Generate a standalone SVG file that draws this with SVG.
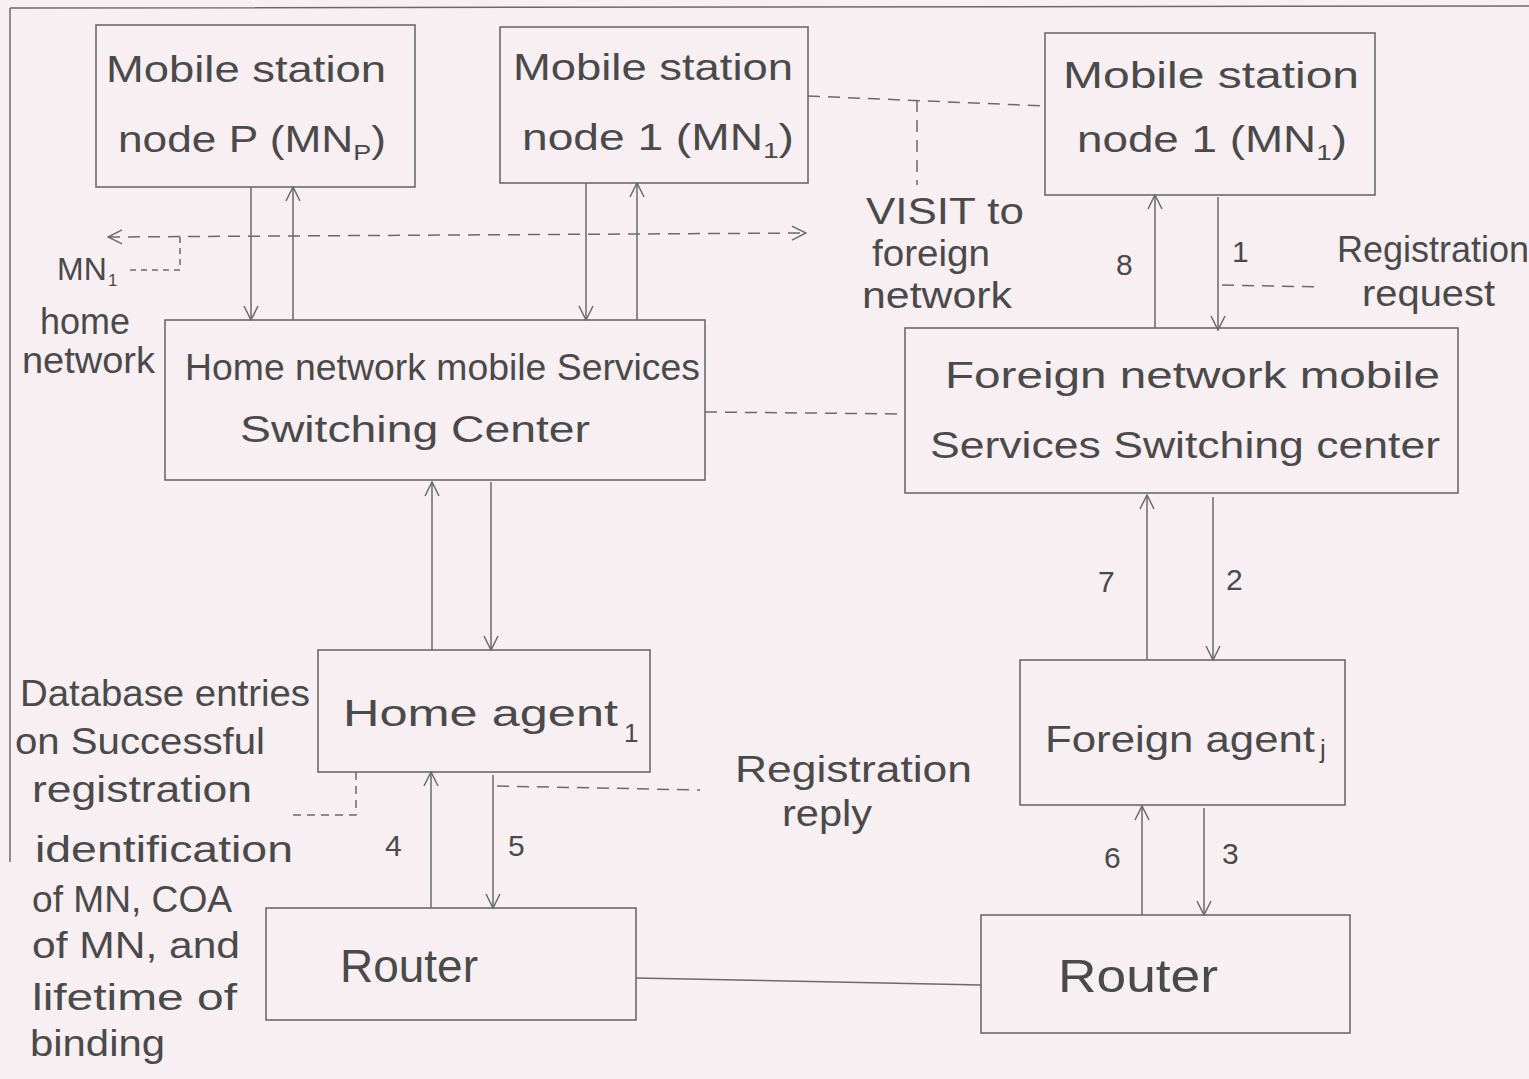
<svg xmlns="http://www.w3.org/2000/svg" width="1529" height="1079" viewBox="0 0 1529 1079">
<style>
.bg{fill:#f7eff2}
.box{fill:none;stroke:#6a6a6a;stroke-width:1.6}
.ln{fill:none;stroke:#6a6a6a;stroke-width:1.5}
.ar{fill:none;stroke:#6a6a6a;stroke-width:1.5;marker-end:url(#ah)}
.ds{fill:none;stroke:#6a6a6a;stroke-width:1.5;stroke-dasharray:12 8}
.t{font-family:"Liberation Sans","DejaVu Sans",sans-serif;fill:#4a4a4a;font-size:36px}
.n{font-size:30px}
.big{font-size:46px}
.sub{font-size:26px}
</style>
<defs>
<marker id="ah" viewBox="0 0 16 16" refX="15" refY="8" markerWidth="16" markerHeight="16" markerUnits="userSpaceOnUse" orient="auto-start-reverse">
<path d="M1,1 L15,8 L1,15" fill="none" stroke="#6a6a6a" stroke-width="1.5"/>
</marker>
</defs>
<rect class="bg" x="0" y="0" width="1529" height="1079"/>
<g id="frame">
<path class="ln" d="M10,8 L1529,6 M10,8 L10,862"/>
</g>
<g id="connectors">
<path class="ar" d="M251,187 L251,320"/>
<path class="ar" d="M293,320 L293,187"/>
<path class="ar" d="M586,183 L586,320"/>
<path class="ar" d="M637,320 L637,183"/>
<path class="ar" d="M432,650 L432,482"/>
<path class="ar" d="M491,482 L491,650"/>
<path class="ar" d="M431,908 L431,772"/>
<path class="ar" d="M493,775 L493,908"/>
<path class="ar" d="M1218,197 L1218,330"/>
<path class="ar" d="M1155,328 L1155,195"/>
<path class="ar" d="M1213,497 L1213,660"/>
<path class="ar" d="M1147,660 L1147,495"/>
<path class="ar" d="M1204,808 L1204,915"/>
<path class="ar" d="M1142,915 L1142,806"/>
<path class="ln" d="M636,978 L981,985"/>
<path class="ds" d="M705,412 L905,414"/>
<path class="ds" d="M808,96 L1045,106"/>
<path class="ds" d="M917,100 L917,185"/>
<path class="ds" d="M108,237 L806,233" marker-start="url(#ah)" marker-end="url(#ah)"/>
<path class="ds" style="stroke-dasharray:6 5" d="M130,270 L180,270 L180,237"/>
<path class="ds" d="M1222,285 L1322,287"/>
<path class="ds" d="M497,786 L700,790"/>
<path class="ds" style="stroke-dasharray:8 6" d="M293,815 L356,815 L356,772"/>
</g>
<g id="mnp">
<rect class="box" x="96" y="25" width="319" height="162"/>
<text class="t" x="106" y="82" textLength="280" lengthAdjust="spacingAndGlyphs">Mobile station</text>
<text class="t" x="118" y="152" textLength="268" lengthAdjust="spacingAndGlyphs">node P (MN<tspan font-size="22" dy="8">P</tspan><tspan dy="-8">)</tspan></text>
</g>
<g id="mn1home">
<rect class="box" x="500" y="27" width="308" height="156"/>
<text class="t" x="513" y="80" textLength="280" lengthAdjust="spacingAndGlyphs">Mobile station</text>
<text class="t" x="522" y="150" textLength="272" lengthAdjust="spacingAndGlyphs">node 1 (MN<tspan font-size="22" dy="8">1</tspan><tspan dy="-8">)</tspan></text>
</g>
<g id="mn1foreign">
<rect class="box" x="1045" y="33" width="330" height="162"/>
<text class="t" x="1063" y="88" textLength="296" lengthAdjust="spacingAndGlyphs">Mobile station</text>
<text class="t" x="1077" y="152" textLength="270" lengthAdjust="spacingAndGlyphs">node 1 (MN<tspan font-size="22" dy="8">1</tspan><tspan dy="-8">)</tspan></text>
</g>
<g id="homemsc">
<rect class="box" x="165" y="320" width="540" height="160"/>
<text class="t" x="185" y="380" textLength="515" lengthAdjust="spacingAndGlyphs">Home network mobile Services</text>
<text class="t" x="240" y="442" textLength="350" lengthAdjust="spacingAndGlyphs">Switching Center</text>
</g>
<g id="foreignmsc">
<rect class="box" x="905" y="328" width="553" height="165"/>
<text class="t" x="945" y="388" textLength="495" lengthAdjust="spacingAndGlyphs">Foreign network mobile</text>
<text class="t" x="930" y="458" textLength="510" lengthAdjust="spacingAndGlyphs">Services Switching center</text>
</g>
<g id="homeagent">
<rect class="box" x="318" y="650" width="332" height="122"/>
<text class="t" x="343" y="726" textLength="275" lengthAdjust="spacingAndGlyphs">Home agent</text>
<text class="t sub" x="624" y="742">1</text>
</g>
<g id="foreignagent">
<rect class="box" x="1020" y="660" width="325" height="145"/>
<text class="t" x="1045" y="752" textLength="270" lengthAdjust="spacingAndGlyphs">Foreign agent</text>
<text class="t sub" x="1320" y="758">j</text>
</g>
<g id="homerouter">
<rect class="box" x="266" y="908" width="370" height="112"/>
<text class="t big" x="340" y="982" textLength="138" lengthAdjust="spacingAndGlyphs">Router</text>
</g>
<g id="foreignrouter">
<rect class="box" x="981" y="915" width="369" height="118"/>
<text class="t big" x="1058" y="992" textLength="160" lengthAdjust="spacingAndGlyphs">Router</text>
</g>
<g id="labels">
<text class="t" x="866" y="224" textLength="158" lengthAdjust="spacingAndGlyphs">VISIT to</text>
<text class="t" x="872" y="266" textLength="118" lengthAdjust="spacingAndGlyphs">foreign</text>
<text class="t" x="862" y="308" textLength="150" lengthAdjust="spacingAndGlyphs">network</text>
<text class="t" x="57" y="280" style="font-size:32px">MN</text>
<text class="t" x="108" y="286" style="font-size:17px">1</text>
<text class="t" x="40" y="334" textLength="90" lengthAdjust="spacingAndGlyphs">home</text>
<text class="t" x="22" y="373" textLength="133" lengthAdjust="spacingAndGlyphs">network</text>
<text class="t" x="1337" y="262" textLength="192" lengthAdjust="spacingAndGlyphs">Registration</text>
<text class="t" x="1362" y="306" textLength="133" lengthAdjust="spacingAndGlyphs">request</text>
<text class="t" x="735" y="782" textLength="237" lengthAdjust="spacingAndGlyphs">Registration</text>
<text class="t" x="782" y="826" textLength="90" lengthAdjust="spacingAndGlyphs">reply</text>
<text class="t" x="20" y="706" textLength="290" lengthAdjust="spacingAndGlyphs">Database entries</text>
<text class="t" x="15" y="754" textLength="250" lengthAdjust="spacingAndGlyphs">on Successful</text>
<text class="t" x="32" y="802" textLength="220" lengthAdjust="spacingAndGlyphs">registration</text>
<text class="t" x="35" y="862" textLength="258" lengthAdjust="spacingAndGlyphs">identification</text>
<text class="t" x="32" y="912" textLength="200" lengthAdjust="spacingAndGlyphs">of MN, COA</text>
<text class="t" x="32" y="958" textLength="208" lengthAdjust="spacingAndGlyphs">of MN, and</text>
<text class="t" x="32" y="1010" textLength="205" lengthAdjust="spacingAndGlyphs">lifetime of</text>
<text class="t" x="30" y="1056" textLength="135" lengthAdjust="spacingAndGlyphs">binding</text>
<text class="t n" x="1116" y="275">8</text>
<text class="t n" x="1232" y="262">1</text>
<text class="t n" x="1098" y="592">7</text>
<text class="t n" x="1226" y="590">2</text>
<text class="t n" x="1104" y="868">6</text>
<text class="t n" x="1222" y="864">3</text>
<text class="t n" x="385" y="856">4</text>
<text class="t n" x="508" y="856">5</text>
</g>
</svg>
